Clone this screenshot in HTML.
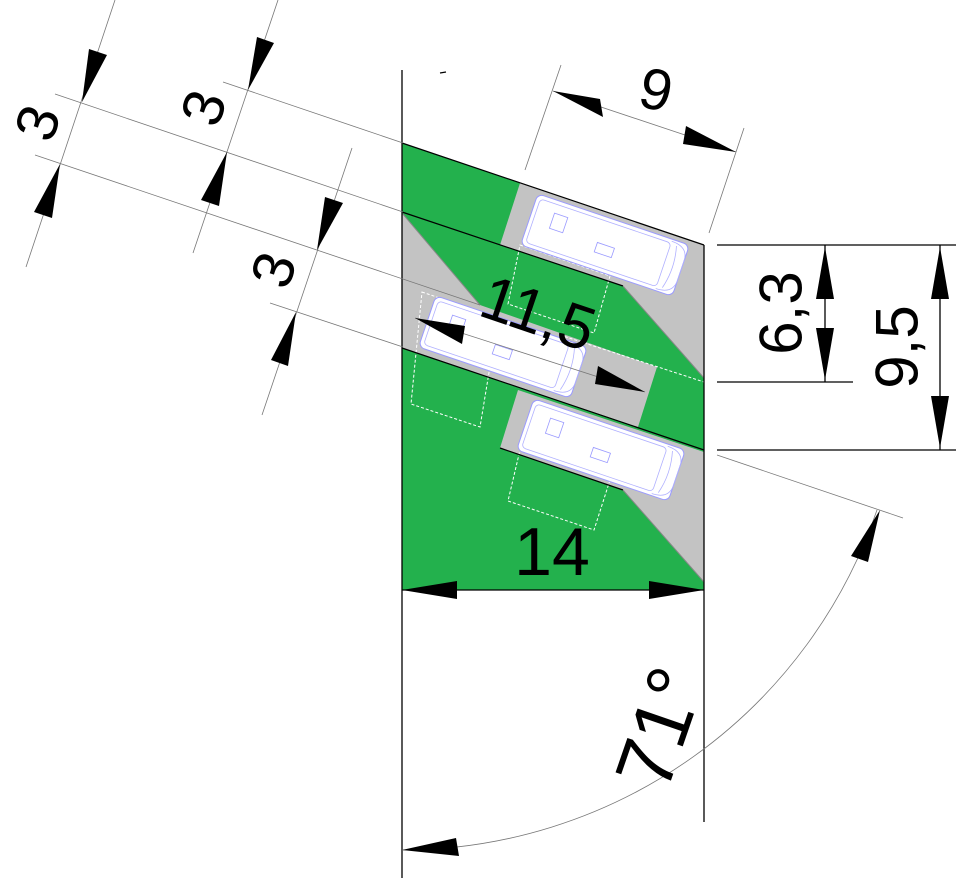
<!DOCTYPE html>
<html><head><meta charset="utf-8"><style>html,body{margin:0;padding:0;background:#fff}svg{display:block}text{font-family:"Liberation Sans",sans-serif;fill:#000}</style></head>
<body>
<svg width="956" height="880" viewBox="0 0 956 880" xmlns="http://www.w3.org/2000/svg">
<defs>
<g id="van">
<rect x="-80" y="-27" width="160" height="54" rx="6" fill="#fff" stroke="#9a9aff" stroke-width="1"/>
<rect x="-76" y="-23" width="138" height="46" rx="4" fill="none" stroke="#b0b0ff" stroke-width="0.8"/>
<path d="M62,-25 Q80,-25 80,-10 L80,10 Q80,25 62,25" fill="none" stroke="#b0b0ff" stroke-width="0.8"/>
<path d="M68,-22 Q74,0 68,22" fill="none" stroke="#b0b0ff" stroke-width="0.8"/>
<rect x="-58" y="-14" width="14" height="16" fill="none" stroke="#9a9aff" stroke-width="0.8"/>
<rect x="-8" y="0" width="18" height="10" fill="none" stroke="#9a9aff" stroke-width="0.8"/>
</g>
</defs>
<polygon points="402,143 704,245 704,590 402,590" fill="#23b14d"/>
<polygon points="520,183 704,245 704,378 623,286 500,245" fill="#c3c3c3"/>
<polygon points="402,213 480,305 657,367 638,427 402,348" fill="#c3c3c3"/>
<polygon points="518,390 704,452 704,582 623,490 500,448" fill="#c3c3c3"/>
<g fill="none" stroke="#fff" stroke-width="1" stroke-dasharray="3,2">
<polygon points="422,292 498,318 480,427 411,404"/>
<polygon points="520,245 610,276 594,333 508,304"/>
<polygon points="520,450 610,480 594,530 508,501"/>
<line x1="560" y1="335" x2="704" y2="382"/>
</g>
<use href="#van" transform="translate(605,245) rotate(18.7)"/>
<use href="#van" transform="translate(503,347) rotate(18.7)"/>
<use href="#van" transform="translate(601,450) rotate(18.7)"/>
<g stroke="#000" stroke-width="1.2" fill="none">
<line x1="402" y1="143" x2="704" y2="245"/>
<line x1="402" y1="212" x2="623" y2="286"/>
<line x1="402" y1="348" x2="704" y2="450"/>
<line x1="500" y1="448" x2="623" y2="490"/>
</g>
<g stroke="#888" stroke-width="1" fill="none">
<line x1="623" y1="286" x2="704" y2="378"/>
<line x1="402" y1="213" x2="480" y2="305"/>
<line x1="623" y1="490" x2="704" y2="582"/>
</g>
<g stroke="#000" stroke-width="1.3">
<line x1="402" y1="70" x2="402" y2="878"/>
<line x1="704" y1="245" x2="704" y2="822"/>
<line x1="402" y1="590" x2="704" y2="590"/>
<line x1="717" y1="245" x2="956" y2="245"/>
<line x1="717" y1="382" x2="853" y2="382"/>
<line x1="717" y1="450" x2="956" y2="450"/>
<line x1="825" y1="245" x2="825" y2="382"/>
<line x1="940" y1="245" x2="940" y2="450"/>
<line x1="440" y1="73" x2="446" y2="72"/>
</g>
<g stroke="#777" stroke-width="0.8" fill="none">
<line x1="115" y1="0" x2="26" y2="267"/>
<line x1="278" y1="0" x2="193" y2="253"/>
<line x1="352" y1="148" x2="262" y2="415"/>
<line x1="55" y1="94" x2="403" y2="212"/>
<line x1="35" y1="155" x2="480" y2="305"/>
<line x1="223" y1="82" x2="403" y2="143"/>
<line x1="270" y1="303" x2="403" y2="347"/>
<line x1="561" y1="65" x2="525" y2="170"/>
<line x1="744" y1="128" x2="709" y2="233"/>
<line x1="553" y1="91" x2="736" y2="152"/>
<line x1="415" y1="318" x2="645" y2="392"/>
<line x1="717" y1="455" x2="903" y2="518"/>
<path d="M402,850 A502,502 0 0 0 877,510"/>
</g>
<g fill="#000">
<polygon points="82,102 89,49 107,55"/>
<polygon points="60,164 34,212 52,218"/>
<polygon points="248,90 257,37 274,43"/>
<polygon points="227,152 201,200 219,206"/>
<polygon points="317,250 325,197 343,203"/>
<polygon points="296,312 271,360 288,366"/>
<polygon points="553,91 600,99 603,117"/>
<polygon points="736,152 683,144 686,126"/>
<polygon points="415,318 465,326 462,344"/>
<polygon points="645,392 595,384 598,366"/>
<polygon points="402,590 457,581 457,599"/>
<polygon points="704,590 649,581 649,599"/>
<polygon points="825,247 816,299 834,299"/>
<polygon points="825,380 816,328 834,328"/>
<polygon points="940,247 931,299 949,299"/>
<polygon points="940,448 931,396 949,396"/>
<polygon points="402,850 456,838 459,856"/>
<polygon points="880,510 851,556 868,562"/>
</g>
<text x="38" y="123" font-size="58" text-anchor="middle" dominant-baseline="central" transform="rotate(-72 38 123)">3</text>
<text x="204" y="108" font-size="58" text-anchor="middle" dominant-baseline="central" transform="rotate(-72 204 108)">3</text>
<text x="274" y="270" font-size="58" text-anchor="middle" dominant-baseline="central" transform="rotate(-72 274 270)">3</text>
<text x="656" y="90" font-size="58" text-anchor="middle" dominant-baseline="central" transform="rotate(12 656 90)">9</text>
<text x="781" y="313" font-size="60" text-anchor="middle" dominant-baseline="central" transform="rotate(-90 781 313)">6,3</text>
<text x="897" y="347" font-size="60" text-anchor="middle" dominant-baseline="central" transform="rotate(-90 897 347)">9,5</text>
<text x="538" y="314" font-size="62" text-anchor="middle" dominant-baseline="central" transform="rotate(18.7 538 314)">11,5</text>
<text x="552" y="552" font-size="68" text-anchor="middle" dominant-baseline="central">14</text>
<text x="660" y="728" font-size="80" text-anchor="middle" dominant-baseline="central" transform="rotate(-71 660 728)">71°</text>
</svg>
</body></html>
